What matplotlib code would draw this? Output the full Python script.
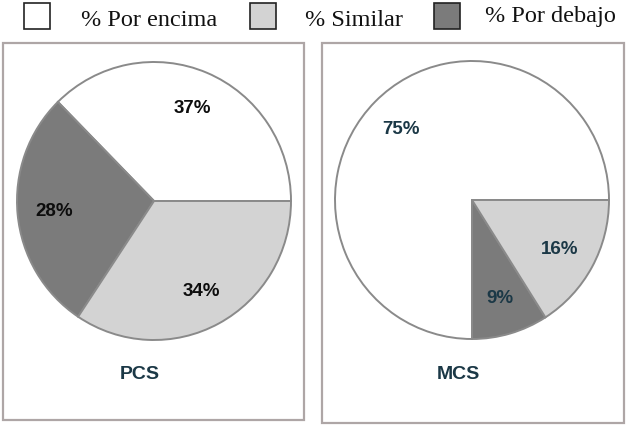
import matplotlib.pyplot as plt
from matplotlib.patches import Rectangle

# Share of patients above / below / similar to the reference norm
categories = ['% Por encima', '% Similar', '% Por debajo']
pcs_values = [37, 28, 34]   # encima, debajo, similar (counter-clockwise from 3 o'clock)
mcs_values = [75, 9, 16]
slice_order = ['% Por encima', '% Por debajo', '% Similar']
panel_titles = ['PCS', 'MCS']

colors = {'% Por encima': '#ffffff', '% Similar': '#d3d3d3', '% Por debajo': '#7b7b7b'}
label_colors = ['#0d0d0d', '#1b3846']
title_color = '#1b3846'

W, H = 626, 427
fig = plt.figure(figsize=(W / 100, H / 100), dpi=100)


def fx(px):
    return px / W


def fy(py):
    return 1 - py / H


# Panel frames
for x0, x1, y0, y1 in [(3, 304, 44, 421), (322, 624, 44, 424)]:
    fig.patches.append(Rectangle((fx(x0), fy(y1)), fx(x1 - x0), (y1 - y0) / H,
                                 transform=fig.transFigure, fill=False,
                                 edgecolor='#aea6a6', linewidth=1.6))

# Pies
centers = [(154, 202), (472, 201)]
rx, ry = 137, 139
for (cx, cy), vals, lc, title in zip(centers, [pcs_values, mcs_values],
                                      label_colors, panel_titles):
    ax = fig.add_axes([fx(cx - rx), fy(cy + ry), fx(2 * rx), 2 * ry / H])
    wedges, texts = ax.pie(vals, labels=[f'{v}%' for v in vals],
                           colors=[colors[c] for c in slice_order],
                           startangle=0, counterclock=True, labeldistance=0.73,
                           wedgeprops=dict(edgecolor='#8a8a8a', linewidth=1.4),
                           textprops=dict(fontsize=13.5, fontweight='bold', color=lc,
                                          family='Liberation Sans',
                                          ha='center', va='center'))
    ax.set_xlim(-1, 1)
    ax.set_ylim(-1, 1)
    ax.set_aspect('auto')
    fig.text(fx(cx - 14), fy(375), title, fontsize=14, fontweight='bold',
             color=title_color, family='Liberation Sans', ha='center', va='center')

# Legend across the top
legend_items = [(24, 81, 26), (250, 305, 26), (434, 485, 22)]
for name, (sx, tx, base) in zip(categories, legend_items):
    fig.patches.append(Rectangle((fx(sx), fy(30)), fx(26), 26 / H,
                                 transform=fig.transFigure,
                                 facecolor=colors[name], edgecolor='#222222',
                                 linewidth=1.2))
    fig.text(fx(tx), fy(base), name, fontsize=17.5, family='Liberation Serif',
             ha='left', va='baseline', color='#111111')

fig.savefig('out.png', dpi=100)
